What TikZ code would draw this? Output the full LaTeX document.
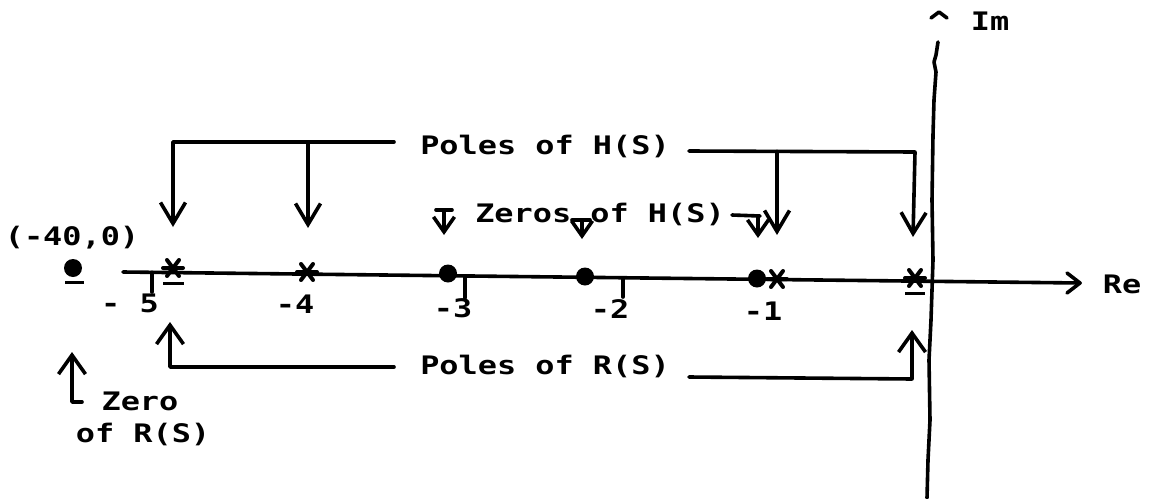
\documentclass[tikz,border=0pt]{standalone}
\usepackage{fontspec}
\newfontfamily\plotfont[FakeStretch=1.25]{DejaVu Sans Mono}
\usetikzlibrary{arrows.meta}
\begin{document}
\begin{tikzpicture}[x=1pt,y=-1pt,
  pen/.style={line width=3.6pt,line cap=round,line join=round},
  bigtip/.style={-{Straight Barb[length=21pt,width=25pt]}},
  uptip/.style={-{Straight Barb[length=19pt,width=27pt]}},
  smalltip/.style={-{Straight Barb[length=15pt,width=21pt]}},
  lbl/.style={font=\plotfont\bfseries\fontsize{25.5}{28}\selectfont,inner sep=0pt,anchor=base},
  zeromark/.style={circle,fill=black,minimum size=18pt,inner sep=0pt},
  polemark/.pic={\draw[line width=4pt,line cap=round] (-10,0)--(10,0) (-6,-8)--(6,8) (-6,8)--(6,-8);},
]
% page frame
\fill[white] (0,0) rectangle (1151,498);
\useasboundingbox (0,0) rectangle (1151,498);

% real axis
\coordinate (reL) at (123,272);
\coordinate (reR) at (1080,283);
\draw[pen] (reL) -- (reR);
\draw[pen] (1067,273) -- (reR) -- (1067,293);
\node[lbl] (re) at (1122,293) {Re};

% imaginary axis (hand-drawn)
\coordinate (imT) at (938,42);
\coordinate (imB) at (927,498);
\draw[pen] (imT) -- (936,55) -- (934,62) -- (936,72) -- (934,100) -- (933,135)
  -- (932,200) -- (933,260) -- (931,320) -- (929,360) -- (930,420) -- (928,460) -- (imB);
\draw[pen] (931,18) -- (939,12) -- (947,18);
\node[lbl] (im) at (990,30) {Im};

% ticks and scale
\draw[pen] (152,272.3) -- (152,292);
\draw[pen] (465,276) -- (465,298);
\draw[pen] (623,277.8) -- (623,297);
\node[lbl] (t5) at (130,312) {- 5};
\node[lbl] (t4) at (295,313) {-4};
\node[lbl] (t3) at (453,317) {-3};
\node[lbl] (t2) at (610,318) {-2};
\node[lbl] (t1) at (763,320) {-1};

% zeros
\node[zeromark] (z40) at (73,268) {};
\draw[line width=3pt] (65,282) -- (84,282);
\node[zeromark] (z3) at (448,273.5) {};
\node[zeromark] (z2) at (585,276.5) {};
\node[zeromark] (z1) at (757,278.5) {};
\node[lbl] (z40lbl) at (72,245) {(-40,0)};

% poles
\pic at (173,268) {polemark};
\draw[line width=3pt] (163,283) -- (184,283);
\pic at (307,272) {polemark};
\pic at (777,279) {polemark};
\pic at (915,278) {polemark};
\draw[line width=3pt] (905,293) -- (925,293);
\coordinate (pA) at (173,227);
\coordinate (pB) at (308,228);
\coordinate (pC) at (777,235);
\coordinate (pD) at (913,237);

% poles of H(S)
\node[lbl] (polesH) at (545,154) {Poles of H(S)};
\draw[pen,bigtip] (394,142) -- (173,142) -- (pA);
\draw[pen,bigtip] (308,142) -- (pB);
\draw[pen,bigtip] (689,151) -- (915,152) -- (pD);
\draw[pen,bigtip] (777,151.5) -- (pC);

% zeros of H(S)
\node[lbl] (zerosH) at (600,222) {Zeros of H(S)};
\draw[pen] (436,210) -- (452,210);
\draw[pen,smalltip] (444,210) -- (444,235);
\draw[pen] (572,220) -- (590,220);
\draw[pen,smalltip] (582,220) -- (582,239);
\draw[pen] (732,215) -- (760,216);
\draw[pen,smalltip] (758,216) -- (758,238);

% poles of R(S)
\node[lbl] (polesR) at (545,374) {Poles of R(S)};
\draw[pen,uptip] (394,367) -- (170,367) -- (170,322);
\draw[pen,uptip] (689,377) -- (912,379) -- (912,330);

% zero of R(S)
\draw[pen,uptip] (82,402) -- (72,402) -- (72,352);
\node[lbl] (zeroR1) at (140,410) {Zero};
\node[lbl] (zeroR2) at (143,442) {of R(S)};
\end{tikzpicture}
\end{document}
